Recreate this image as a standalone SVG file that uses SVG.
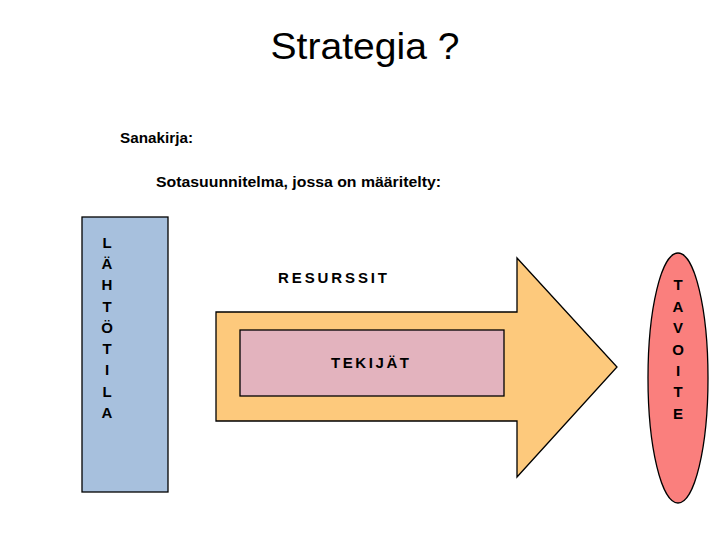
<svg xmlns="http://www.w3.org/2000/svg" width="720" height="540" viewBox="0 0 720 540">
<style>
text{font-family:"Liberation Sans",Arial,sans-serif;fill:#000}
.b{font-weight:bold;font-size:15px}
.v{font-weight:bold;font-size:15px;text-anchor:middle}
.sp{font-weight:bold;font-size:15px;letter-spacing:4px}
.sh{stroke:#000;stroke-width:1.3}
</style>
<rect width="720" height="540" fill="#fff"/>
<text x="365" y="59" font-size="37" text-anchor="middle" textLength="189" lengthAdjust="spacingAndGlyphs">Strategia ?</text>
<text class="b" x="120" y="143" textLength="73" lengthAdjust="spacingAndGlyphs">Sanakirja:</text>
<text class="b" x="156" y="187" textLength="285" lengthAdjust="spacingAndGlyphs">Sotasuunnitelma, jossa on määritelty:</text>
<g id="lahtotila">
<rect class="sh" x="82" y="217" width="86" height="275" fill="#a7c0dd"/>
<text class="v" x="107"><tspan x="107" y="248">L</tspan><tspan x="107" y="269">Ä</tspan><tspan x="107" y="290">H</tspan><tspan x="107" y="312">T</tspan><tspan x="107" y="333">Ö</tspan><tspan x="107" y="354">T</tspan><tspan x="107" y="375">I</tspan><tspan x="107" y="397">L</tspan><tspan x="107" y="418">A</tspan></text>
</g>
<g id="resurssit">
<polygon class="sh" points="216,312 517,312 517,258 617,367 517,477 517,421 216,421" fill="#fdc97c"/>
<text class="sp" x="278" y="283" textLength="113">RESURSSIT</text>
</g>
<g id="tekijat">
<rect class="sh" x="240" y="330" width="264" height="66" fill="#e3b3be"/>
<text class="sp" x="331" y="368" textLength="82">TEKIJÄT</text>
</g>
<g id="tavoite">
<ellipse class="sh" cx="678" cy="378" rx="30" ry="125" fill="#fa7f7d"/>
<text class="v"><tspan x="678" y="290">T</tspan><tspan x="678" y="312">A</tspan><tspan x="678" y="333">V</tspan><tspan x="678" y="355">O</tspan><tspan x="678" y="376">I</tspan><tspan x="678" y="397">T</tspan><tspan x="678" y="419">E</tspan></text>
</g>
<g id="connectors"></g>
</svg>
